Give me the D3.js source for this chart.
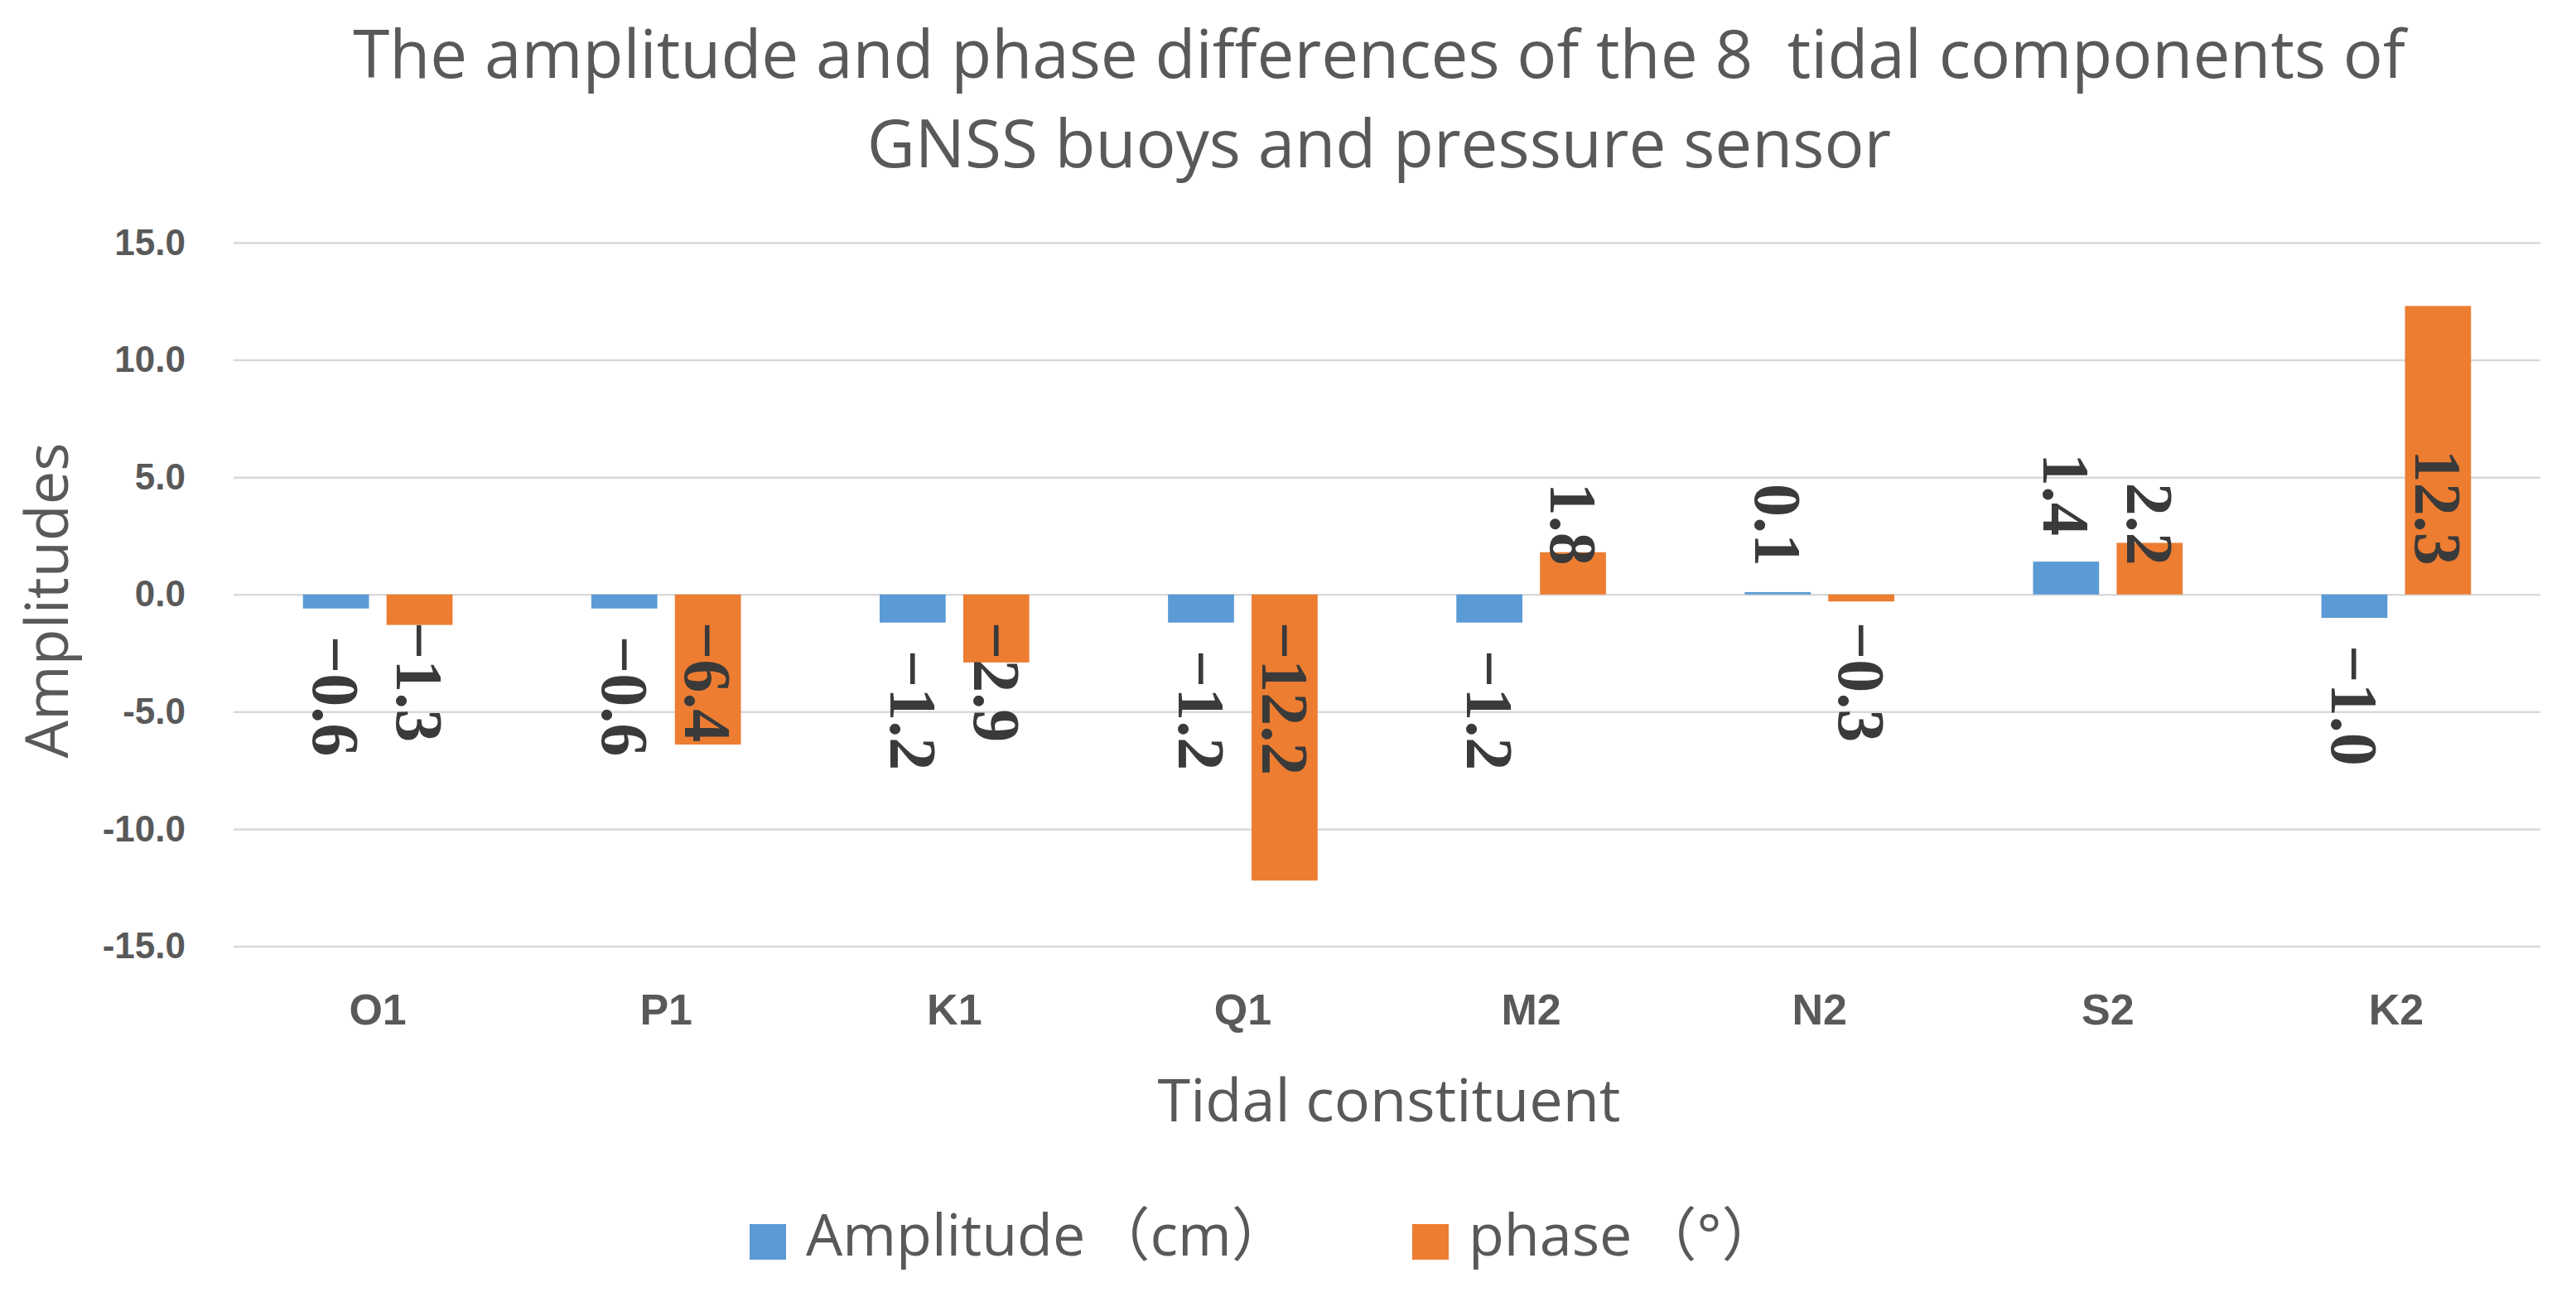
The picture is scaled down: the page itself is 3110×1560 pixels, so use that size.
<!DOCTYPE html>
<html>
<head>
<meta charset="utf-8">
<script src="https://cdn.jsdelivr.net/npm/d3@7"></script>
<style>
  body { margin: 0; background: #fff; }
</style>
</head>
<body>
<div id="chart"></div>
<script>
// Data
const constituents = ["O1", "P1", "K1", "Q1", "M2", "N2", "S2", "K2"];
const amplitudeDiff = [-0.6, -0.6, -1.2, -1.2, -1.2, 0.1, 1.4, -1.0];
const phaseDiff = [-1.3, -6.4, -2.9, -12.2, 1.8, -0.3, 2.2, 12.3];
const seriesNames = ["Amplitude", "phase"];
const seriesUnits = ["（cm）", "（°）"];
const seriesColors = ["#5B9BD5", "#ED7D31"];
const yTicks = [-15, -10, -5, 0, 5, 10, 15];

const titleLines = [
  "The amplitude and phase differences of the 8  tidal components of",
  "GNSS buoys and pressure sensor"
];

// Size and margins
const W = 3110, H = 1560;
const margin = {top: 293, right: 43, bottom: 417.5, left: 282},
    width = W - margin.left - margin.right,
    height = H - margin.top - margin.bottom;

const grey = "#595959";
const sans = "'Open Sans', 'Noto Sans', 'Noto Sans CJK SC', sans-serif";

const svg = d3.select("#chart")
  .append("svg")
    .attr("width", W)
    .attr("height", H)
    .style("font-family", sans);

const g = svg.append("g")
    .attr("transform", `translate(${margin.left},${margin.top})`);

// Scales
const x0 = d3.scaleBand()
  .domain(constituents)
  .range([0, width]);

const x1 = d3.scaleBand()
  .domain([0, 1])
  .range([0, x0.bandwidth()])
  .paddingInner(0.21)
  .paddingOuter(0.83);

const y = d3.scaleLinear()
  .domain([-15, 15])
  .range([height, 0]);

// Y axis + gridlines
const yAxis = g.append("g")
  .call(d3.axisLeft(y)
    .tickValues(yTicks)
    .tickSize(-width)
    .tickPadding(58)
    .tickFormat(d => d.toFixed(1)));
yAxis.select(".domain").remove();
yAxis.selectAll("line")
  .attr("stroke", "#D9D9D9")
  .attr("stroke-width", 2.5);
yAxis.selectAll("text")
  .attr("fill", grey)
  .style("font-family", "'Liberation Sans', Arial, sans-serif")
  .style("font-weight", "bold")
  .style("font-size", "44px");

// X axis labels
const xAxis = g.append("g")
  .attr("transform", `translate(0,${height})`)
  .call(d3.axisBottom(x0).tickSize(0).tickPadding(58));
xAxis.select(".domain").remove();
xAxis.selectAll("text")
  .attr("fill", grey)
  .style("font-family", "'Liberation Sans', Arial, sans-serif")
  .style("font-weight", "bold")
  .style("font-size", "52px");

// Bars
const rows = constituents.map((c, i) => ({c, vals: [amplitudeDiff[i], phaseDiff[i]]}));

const groups = g.selectAll(".grp")
  .data(rows)
  .join("g")
    .attr("class", "grp")
    .attr("transform", d => `translate(${x0(d.c)},0)`);

groups.selectAll("rect")
  .data(d => d.vals.map((v, s) => ({v, s})))
  .join("rect")
    .attr("x", d => x1(d.s))
    .attr("width", x1.bandwidth())
    .attr("y", d => y(Math.max(0, d.v)))
    .attr("height", d => Math.abs(y(d.v) - y(0)))
    .attr("fill", d => seriesColors[d.s]);

// Data labels, rotated 90deg
// amplitude labels sit outside the bar end, phase labels at the base
const fmt = d3.format(".1f");
function labelY(d) {
  if (d.s === 0) return d.v < 0 ? y(d.v) + 33 : y(d.v) - 31;
  return d.v < 0 ? y(0) + 33 : y(0) - 35;
}

groups.selectAll(".lbl")
  .data(d => d.vals.map((v, s) => ({v, s})))
  .join("text")
    .attr("class", "lbl")
    .attr("transform", d => `translate(${x1(d.s) + x1.bandwidth() / 2},${labelY(d)}) rotate(90)`)
    .attr("dy", "0.34em")
    .attr("text-anchor", d => d.v < 0 ? "start" : "end")
    .attr("fill", "#3A3A3A")
    .style("font-family", "'Liberation Serif', 'Times New Roman', serif")
    .style("font-weight", "bold")
    .style("font-size", "80px")
    .text(d => fmt(d.v));

// Title
svg.append("text")
  .attr("x", 1665)
  .attr("y", 94)
  .attr("text-anchor", "middle")
  .attr("fill", grey)
  .style("font-size", "80px")
  .selectAll("tspan")
  .data(titleLines)
  .join("tspan")
    .attr("x", 1665)
    .attr("dy", (d, i) => i === 0 ? 0 : 108)
    .style("white-space", "pre")
    .text(d => d);

// Axis titles
svg.append("text")
  .attr("transform", "translate(82,725) rotate(-90)")
  .attr("text-anchor", "middle")
  .attr("fill", grey)
  .style("font-size", "72px")
  .text("Amplitudes");

svg.append("text")
  .attr("x", 1677)
  .attr("y", 1354)
  .attr("text-anchor", "middle")
  .attr("fill", grey)
  .style("font-size", "72px")
  .text("Tidal constituent");

// Legend
const legendX = [905, 1705];
const legend = svg.append("g")
  .selectAll("g")
  .data(seriesNames)
  .join("g")
    .attr("transform", (d, i) => `translate(${legendX[i]},1478)`);
legend.append("rect")
  .attr("width", 44)
  .attr("height", 43)
  .attr("fill", (d, i) => seriesColors[i]);
const legendText = legend.append("text")
  .attr("x", 68)
  .attr("y", 38)
  .attr("fill", grey)
  .style("font-size", "70px");
legendText.append("tspan")
  .text(d => d + " ");
legendText.append("tspan")
  .attr("dx", -10)
  .text((d, i) => seriesUnits[i]);
</script>
</body>
</html>
